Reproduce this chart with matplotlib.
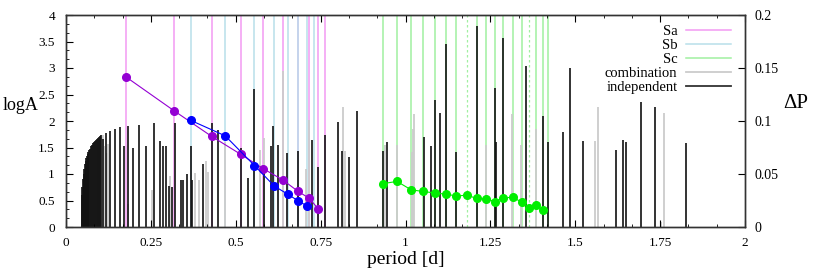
import matplotlib
matplotlib.use('Agg')
import matplotlib.pyplot as plt
from matplotlib.lines import Line2D
from matplotlib.ticker import AutoMinorLocator, FormatStrFormatter, MultipleLocator

plt.rcParams['font.family'] = ['Liberation Serif', 'DejaVu Serif']

# frequencies of the three sequences (period [d]) and their amplitudes (logA)
sa_per = [0.177, 0.319, 0.429, 0.515, 0.581, 0.638, 0.684, 0.717, 0.743]
sa_loga = [2.83, 2.19, 1.71, 1.37, 1.10, 0.89, 0.67, 0.54, 0.34]
sa_extra = [0.762]

sb_per = [0.368, 0.469, 0.555, 0.614, 0.653, 0.682, 0.709]
sb_loga = [2.01, 1.72, 1.16, 0.77, 0.62, 0.50, 0.40]
sb_extra = [0.730]

sc_per = [0.935, 0.975, 1.017, 1.053, 1.088, 1.119, 1.150, 1.180, 1.210,
          1.237, 1.264, 1.287, 1.316, 1.342, 1.365, 1.384, 1.404]
sc_loga = [0.82, 0.86, 0.70, 0.67, 0.64, 0.62, 0.585, 0.60, 0.54,
           0.53, 0.48, 0.55, 0.56, 0.47, 0.35, 0.41, 0.32]
sc_dashed = [1.180, 1.365]
sc_extra = [1.421]

# periodogram peaks (delta P)
ind_per = [0.046, 0.048, 0.050, 0.052, 0.054, 0.056, 0.058, 0.060, 0.062, 0.064,
           0.066, 0.068, 0.070, 0.073, 0.076, 0.079, 0.082, 0.085, 0.088, 0.091,
           0.094, 0.097, 0.100, 0.104, 0.110, 0.117, 0.130, 0.144, 0.160, 0.172,
           0.184, 0.198, 0.215, 0.235, 0.258, 0.278, 0.287, 0.2946, 0.304, 0.312,
           0.322, 0.338, 0.346, 0.357, 0.368, 0.372, 0.405, 0.429, 0.448, 0.515,
           0.535, 0.555, 0.583, 0.604, 0.611, 0.625, 0.651, 0.684, 0.726, 0.743,
           0.762, 0.800, 0.812, 0.834, 0.857, 0.933, 0.946, 1.054, 1.076, 1.087,
           1.101, 1.119, 1.150, 1.210, 1.263, 1.268, 1.287, 1.354, 1.404, 1.420,
           1.464, 1.486, 1.524, 1.620, 1.640, 1.650, 1.693, 1.736, 1.826]
ind_dp = [0.030, 0.038, 0.045, 0.050, 0.055, 0.059, 0.062, 0.065, 0.067, 0.069,
          0.071, 0.073, 0.074, 0.076, 0.077, 0.079, 0.080, 0.081, 0.082, 0.083,
          0.084, 0.085, 0.086, 0.087, 0.083, 0.089, 0.091, 0.0925, 0.094, 0.076,
          0.095, 0.075, 0.096, 0.076, 0.098, 0.081, 0.076, 0.076, 0.039, 0.038,
          0.098, 0.044, 0.044, 0.050, 0.076, 0.044, 0.059, 0.098, 0.0915, 0.075,
          0.046, 0.130, 0.057, 0.076, 0.095, 0.077, 0.070, 0.072, 0.082, 0.057,
          0.087, 0.099, 0.072, 0.066, 0.109, 0.072, 0.080, 0.085, 0.076, 0.120,
          0.108, 0.173, 0.071, 0.190, 0.131, 0.080, 0.178, 0.152, 0.105, 0.080,
          0.090, 0.150, 0.081, 0.073, 0.082, 0.080, 0.118, 0.1135, 0.079]

comb_per = [0.095, 0.100, 0.105, 0.110, 0.113, 0.120, 0.125, 0.184, 0.253, 0.306,
            0.381, 0.393, 0.412, 0.419, 0.469, 0.570, 0.582, 0.638, 0.707, 0.717,
            0.817, 0.823, 0.940, 0.975, 1.018, 1.022, 1.026, 1.237, 1.315, 1.341,
            1.384, 1.557, 1.566, 1.754, 1.760]
comb_dp = [0.080, 0.083, 0.085, 0.087, 0.076, 0.070, 0.078, 0.022, 0.035, 0.048,
           0.051, 0.044, 0.062, 0.052, 0.080, 0.073, 0.084, 0.147, 0.055, 0.101,
           0.113, 0.072, 0.077, 0.077, 0.071, 0.092, 0.107, 0.077, 0.107, 0.077,
           0.092, 0.081, 0.113, 0.005, 0.108]

c_sa = '#f29af2'
c_sb = '#b8dfea'
c_sc = '#a0f0a0'
c_comb = '#cccccc'
c_ind = '#111111'

fig = plt.figure(figsize=(8.3, 2.77), dpi=100)
ax = fig.add_axes([66 / 830, 1 - 227 / 277, 679 / 830, 212 / 277])
ax2 = ax.twinx()
ax.set_zorder(ax2.get_zorder() + 1)
ax.patch.set_visible(False)

ax2.vlines(sa_per + sa_extra, 0, 0.2, color=c_sa, lw=1.1)
ax2.vlines(sb_per + sb_extra, 0, 0.2, color=c_sb, lw=1.1)
sc_solid = [p for p in sc_per if p not in sc_dashed] + sc_extra
ax2.vlines(sc_solid, 0, 0.2, color=c_sc, lw=1.1)
ax2.vlines(sc_dashed, 0, 0.2, color=c_sc, lw=0.9, linestyles=(0, (2, 2)))
ax2.vlines(comb_per, 0, comb_dp, color=c_comb, lw=1.3)
ax2.vlines(ind_per, 0, ind_dp, color=c_ind, lw=1.2)

ax.plot(sa_per, sa_loga, '-o', color='#9400d3', lw=0.8, ms=5.5, mec='#9400d3')
ax.plot(sb_per, sb_loga, '-o', color='#0000ff', lw=0.8, ms=5.5, mec='#0000ff')
ax.plot(sc_per, sc_loga, '-o', color='#00ee00', lw=0.8, ms=5.5, mec='#00ee00')

ax.set_xlim(0, 2)
ax.set_ylim(0, 4)
ax2.set_ylim(0, 0.2)

ax.xaxis.set_major_locator(MultipleLocator(0.25))
ax.xaxis.set_minor_locator(AutoMinorLocator(3))
ax.yaxis.set_major_locator(MultipleLocator(0.5))
ax.yaxis.set_minor_locator(AutoMinorLocator(3))
ax.xaxis.set_major_formatter(FormatStrFormatter('%g'))
ax.yaxis.set_major_formatter(FormatStrFormatter('%g'))
ax2.yaxis.set_major_locator(MultipleLocator(0.05))
ax2.yaxis.set_major_formatter(FormatStrFormatter('%g'))

ax.tick_params(which='both', direction='in', top=True, right=False, labelsize=9.5)
ax.tick_params(which='major', length=5, width=0.8)
ax.tick_params(which='minor', length=2.5, width=0.6)
ax.tick_params(axis='x', pad=7)
ax.tick_params(axis='y', pad=8)
ax2.tick_params(direction='in', length=5, width=0.8, labelsize=10, pad=7)

for a in (ax, ax2):
    for s in a.spines.values():
        s.set_linewidth(1.0)
        s.set_color('#333333')

ax.set_xlabel('period [d]', fontsize=14, labelpad=2)
fig.text(3 / 830, 1 - 105 / 277, 'logA', fontsize=13, ha='left', va='center')
fig.text(783 / 830, 1 - 103 / 277, 'ΔP', fontsize=15, ha='left', va='center')

handles = [Line2D([], [], color=c_sa, lw=1.1),
           Line2D([], [], color=c_sb, lw=1.1),
           Line2D([], [], color=c_sc, lw=1.1),
           Line2D([], [], color=c_comb, lw=1.3),
           Line2D([], [], color='#333333', lw=1.3)]
labels = ['Sa', 'Sb', 'Sc', 'combination', 'independent']
ax.legend(handles, labels, loc='upper right', bbox_to_anchor=(0.995, 1.0),
          frameon=False, markerfirst=False, fontsize=10.5, handlelength=3.1,
          handletextpad=0.6, labelspacing=0.05, borderaxespad=0.3)

fig.savefig('out.png', dpi=100)
